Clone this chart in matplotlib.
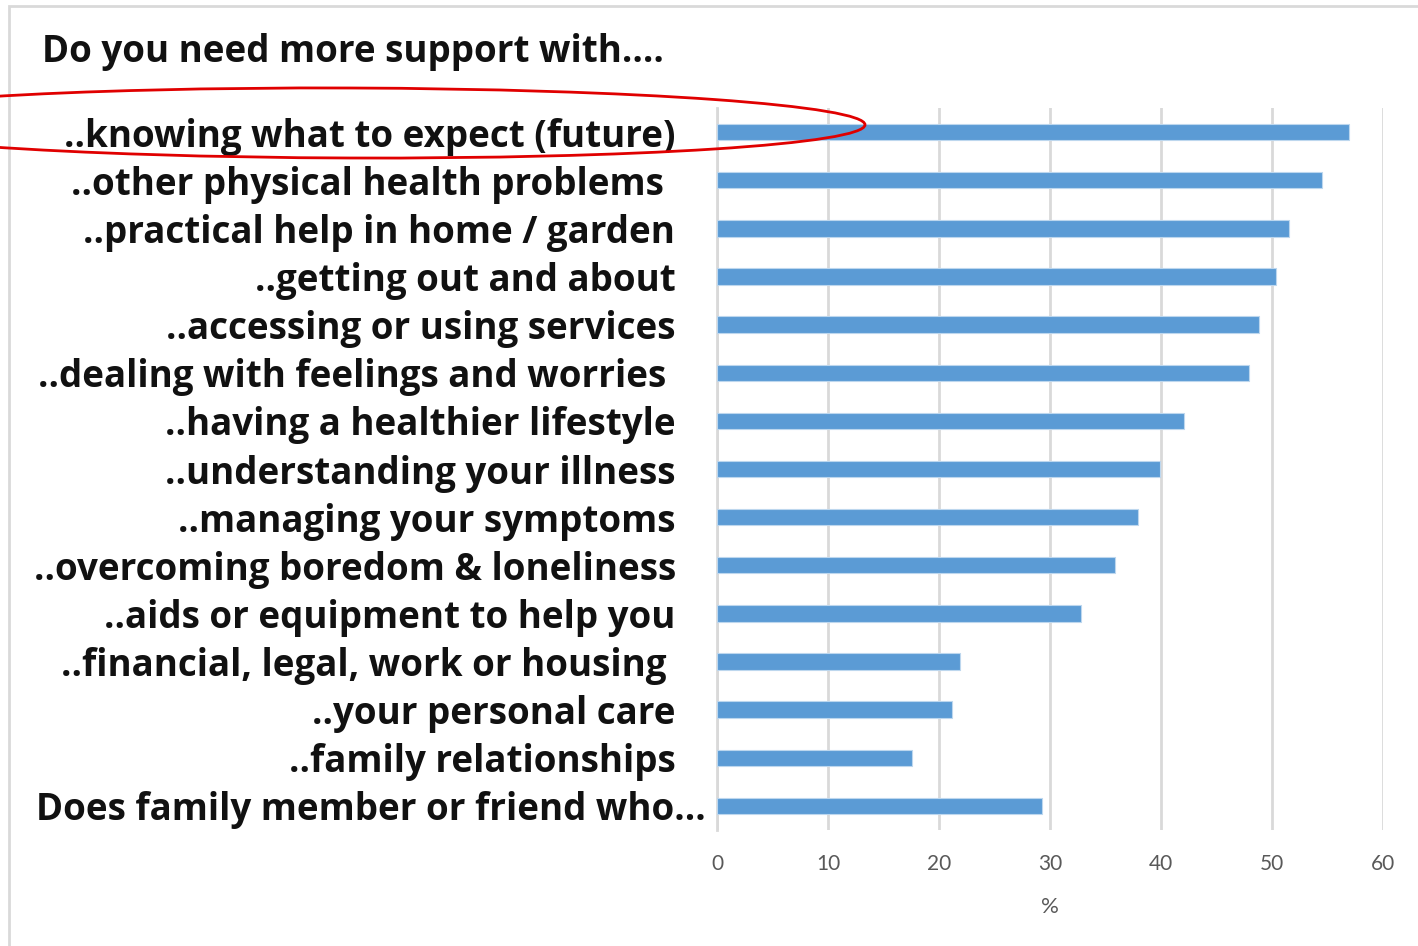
import matplotlib.pyplot as plt
from matplotlib.patches import Ellipse, Rectangle
from matplotlib.transforms import ScaledTranslation

labels = [
    '..knowing what to expect (future)',
    '..other physical health problems',
    '..practical help in home / garden',
    '..getting out and about',
    '..accessing or using services',
    '..dealing with feelings and worries',
    '..having a healthier lifestyle',
    '..understanding your illness',
    '..managing your symptoms',
    '..overcoming boredom & loneliness',
    '..aids or equipment to help you',
    '..financial, legal, work or housing',
    '..your personal care',
    '..family relationships',
    'Does family member or friend who...',
]
values = [56.9, 54.5, 51.5, 50.4, 48.8, 47.9, 42.1, 39.9, 37.9, 35.9,
          32.8, 21.9, 21.2, 17.6, 29.3]
# small per-label shifts (pixels) seen in the original layout
label_shift = [0, -11, 0, 0, 0, -9, 0, 0, 0, 1, 0, -9, 0, 0, 30]
ticks = [0, 10, 20, 30, 40, 50, 60]

fig = plt.figure(figsize=(14.18, 9.46), dpi=100)
ax = fig.add_axes([717 / 1418, 1 - 830 / 946, 666 / 1418, 722 / 946])

ypos = list(range(len(labels)))
ax.barh(ypos, values, height=0.34, color='#5B9BD5', edgecolor='#BDD7EE',
        linewidth=0.8, zorder=3)

ax.set_xlim(0, 60)
ax.set_ylim(len(labels) - 0.5, -0.5)
ax.set_xticks(ticks)
ax.set_xticklabels([str(t) for t in ticks], fontsize=15, color='#595959',
                   family='Lato')
ax.tick_params(axis='x', length=0, pad=17)
ax.set_yticks(ypos)
ax.set_yticklabels(labels, fontsize=26.5, fontweight='bold',
                   family='Open Sans', color='#111111')
ax.tick_params(axis='y', length=0, pad=30)
for lab, dx in zip(ax.get_yticklabels(), label_shift):
    lab.set_transform(lab.get_transform()
                      + ScaledTranslation(dx / 100, 0, fig.dpi_scale_trans))

ax.grid(axis='x', color='#D9D9D9', linewidth=2, zorder=0)
for side in ['top', 'right', 'bottom']:
    ax.spines[side].set_visible(False)
ax.spines['left'].set_color('#D9D9D9')
ax.spines['left'].set_linewidth(2)

ax.set_xlabel('%', fontsize=16, color='#595959', family='Lato', labelpad=17)

fig.text(42 / 1418, 1 - 52 / 946, 'Do you need more support with....',
         fontsize=26.5, fontweight='bold', family='Open Sans', color='#111111',
         va='center', ha='left')

# outer frame of the original chart area
fig.patches.append(Rectangle((9 / 1418, -0.05), 1.1, 1 - 6 / 946 + 0.05,
                             transform=fig.transFigure, fill=False,
                             edgecolor='#D9D9D9', linewidth=2))

# red highlight ellipse
fig.patches.append(Ellipse((350 / 1418, 1 - 123 / 946), 1030 / 1418, 70 / 946,
                           angle=-0.3, transform=fig.transFigure, fill=False,
                           edgecolor='#E00000', linewidth=2, zorder=10))

fig.savefig('out.png', dpi=100)
